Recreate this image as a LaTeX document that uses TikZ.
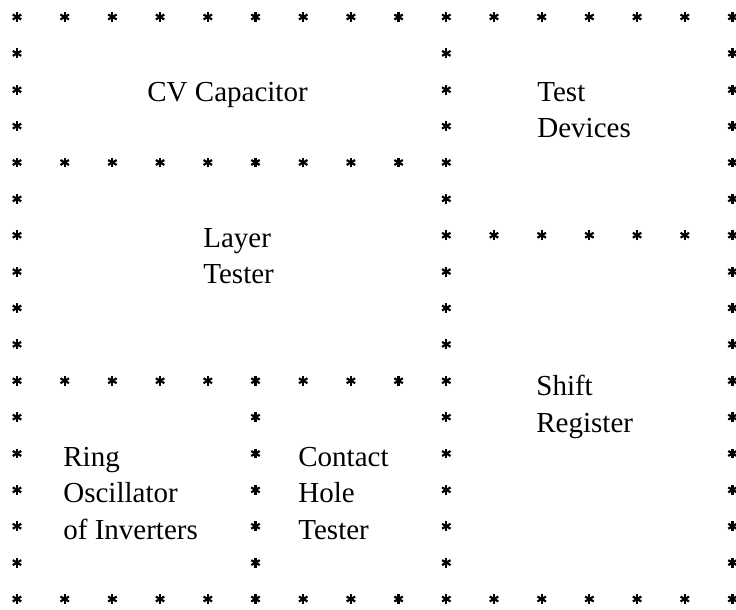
\documentclass[tikz,border=0pt]{standalone}
\usepackage{fontspec}
\setmainfont{Liberation Serif}
\usepackage{tikz}

\tikzset{
    % a typed asterisk: three strokes crossing at the centre
    asterisk/.pic={
        \foreach \a in {90,30,150}
        \draw[line width=1.1pt] (\a:4.9) -- (\a+180:4.9);
    },
    blocktext/.style={anchor=north west, align=left, inner sep=0pt,
        font=\fontsize{14.5}{18.19}\selectfont}
}

% Draw a row of asterisks: row, first column, last column
\newcommand{\starrow}[3]{
    \foreach \c in {#2,...,#3}
    \pic at ({17+47.7*\c},{17+36.375*#1}) {asterisk};
}

% Draw a column of asterisks: column, first row, last row
\newcommand{\starcol}[3]{
    \foreach \r in {#2,...,#3}
    \pic at ({17+47.7*#1},{17+36.375*\r}) {asterisk};
}

\begin{document}
\begin{tikzpicture}[x=0.5pt, y=-0.5pt]
    \useasboundingbox (0,0) rectangle (736,610);

    % Draw the outer frame
    \starrow{0}{0}{15}
    \starrow{16}{0}{15}
    \starcol{0}{1}{15}
    \starcol{15}{1}{15}

    % Draw the inner walls
    \starcol{9}{1}{15}
    \starrow{4}{1}{8}
    \starrow{10}{1}{8}
    \starrow{6}{10}{14}
    \starcol{5}{11}{15}

    % Name the blocks
    \node[blocktext] (cv) at (147,82) {CV Capacitor};
    \node[blocktext] (test) at (537,82) {Test\\Devices};
    \node[blocktext] (layer) at (203,228) {Layer\\Tester};
    \node[blocktext] (shift) at (536,375) {Shift\\Register};
    \node[blocktext] (ring) at (63,447) {Ring\\Oscillator\\of Inverters};
    \node[blocktext] (contact) at (298,447) {Contact\\Hole\\Tester};
\end{tikzpicture}
\end{document}
